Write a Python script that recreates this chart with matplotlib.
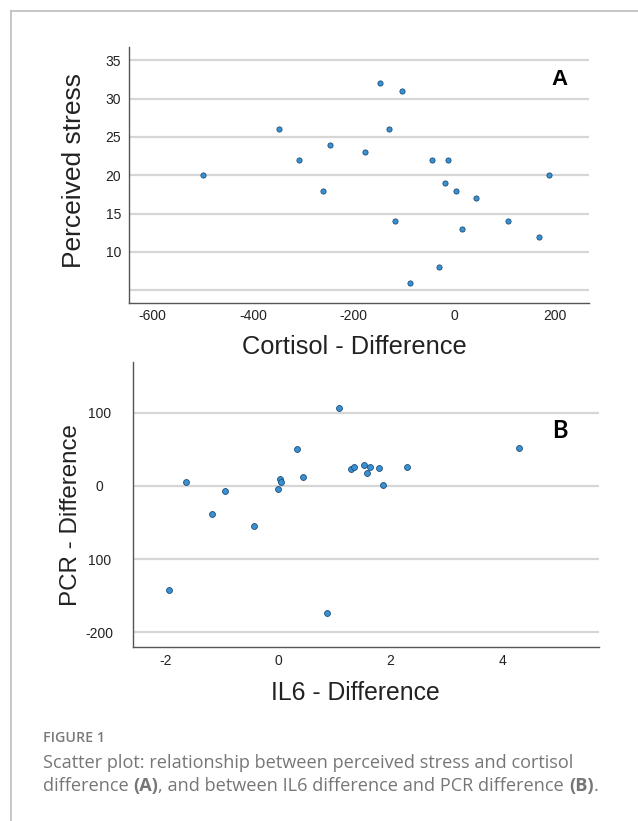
import matplotlib.pyplot as plt
from matplotlib.lines import Line2D

# Panel A data: cortisol difference vs perceived stress
cortisol_diff = [-500, -349, -308, -260, -247, -178, -147, -129, -118, -104, -88,
                 -44, -30, -19, -12, 4, 15, 43, 108, 168, 189]
perceived_stress = [20, 26, 22, 18, 24, 23, 32, 26, 14, 31, 6,
                    22, 8, 19, 22, 18, 13, 17, 14, 12, 20]

# Panel B data: IL6 difference vs PCR difference
il6_diff = [-1.94, -1.63, -1.17, -0.95, -0.42, 0.00, 0.03, 0.06, 0.33, 0.44, 0.87,
            1.08, 1.30, 1.36, 1.53, 1.58, 1.64, 1.80, 1.87, 2.30, 4.29]
pcr_diff = [-142, 5, -38, -7, -55, -4, 9, 5, 50, 12, -174,
            106, 23, 26, 29, 18, 26, 24, 1, 26, 52]

a_xticks = [-600, -400, -200, 0, 200]
a_yticks = [10, 15, 20, 25, 30, 35]
a_ygrid = [5, 10, 15, 20, 25, 30, 35]
b_xticks = [-2, 0, 2, 4]
b_yticks = [100, 0, -100, -200]
b_ylabels = ["100", "0", "100", "-200"]   # as printed in the figure

W, H = 638, 821
fig = plt.figure(figsize=(W / 100, H / 100), dpi=100)
fig.patch.set_facecolor("white")

def fx(x):
    return x / W

def fy(y):
    return 1 - y / H

# page frame (top and left edge)
fig.add_artist(Line2D([fx(11), 1], [fy(10.7), fy(10.7)], color="#bdbdbd", lw=1.2))
fig.add_artist(Line2D([fx(11), fx(11)], [fy(10.7), 0], color="#bdbdbd", lw=1.2))

dot_face = "#3a91d2"
dot_edge = "#1d4d78"
grid_col = "#d6d6d6"
spine_col = "#555555"
axis_font = "Liberation Sans"


def style_axes(ax):
    for s in ["top", "right"]:
        ax.spines[s].set_visible(False)
    for s in ["left", "bottom"]:
        ax.spines[s].set_color(spine_col)
        ax.spines[s].set_linewidth(1.0)
    ax.tick_params(length=0, labelsize=10, labelcolor="#222222")
    for lab in ax.get_xticklabels() + ax.get_yticklabels():
        lab.set_family(axis_font)


# ---- Panel A ----
axA = fig.add_axes([fx(129.4), fy(303.3), fx(588.7) - fx(129.4), fy(47.3) - fy(303.3)])
for g in a_ygrid:
    axA.axhline(g, color=grid_col, lw=1.6, zorder=0)
axA.scatter(cortisol_diff, perceived_stress, s=14, color=dot_face,
            edgecolor=dot_edge, linewidth=0.6, zorder=3)
axA.set_xlim(-646, 267.6)
axA.set_ylim(3.3, 36.7)
axA.set_xticks(a_xticks)
axA.set_yticks(a_yticks)
axA.set_xticklabels([str(v) for v in a_xticks])
axA.set_yticklabels([str(v) for v in a_yticks])
style_axes(axA)
axA.tick_params(axis="y", pad=6.0)
axA.tick_params(axis="x", pad=4.2)

# ---- Panel B ----
axB = fig.add_axes([fx(133), fy(646.7), fx(599.3) - fx(133), fy(361.7) - fy(646.7)])
for g in b_yticks:
    axB.axhline(g, color=grid_col, lw=1.6, zorder=0)
axB.scatter(il6_diff, pcr_diff, s=18, color=dot_face,
            edgecolor=dot_edge, linewidth=0.6, zorder=3)
axB.set_xlim(-2.58, 5.715)
axB.set_ylim(-219.7, 169.7)
axB.set_xticks(b_xticks)
axB.set_yticks(b_yticks)
axB.set_xticklabels([str(v) for v in b_xticks])
axB.set_yticklabels(b_ylabels)
style_axes(axB)
for lab in axB.get_yticklabels():
    lab.set_horizontalalignment("center")
axB.tick_params(axis="y", pad=24)
axB.tick_params(axis="x", pad=5.5)

# axis titles
fig.text(fx(74), fy(170), "Perceived stress", rotation=90, ha="center", va="center",
         fontsize=19, family=axis_font, color="#222222")
fig.text(fx(354.6), fy(347.3), "Cortisol - Difference", ha="center", va="center",
         fontsize=18.3, family=axis_font, color="#222222")
fig.text(fx(71), fy(515), "PCR - Difference", rotation=90, ha="center", va="center",
         fontsize=17.4, family=axis_font, color="#222222")
fig.text(fx(355), fy(692.7), "IL6 - Difference", ha="center", va="center",
         fontsize=17.8, family=axis_font, color="#222222")

# panel letters
fig.text(fx(560), fy(79.5), "A", ha="center", va="center", fontsize=16,
         fontweight="bold", family=axis_font, color="black")
fig.text(fx(560), fy(430), "B", ha="center", va="center", fontsize=17,
         fontweight="bold", family="Lato", color="black")

# caption, written piece by piece so the bold letters stay in the same font
cap_col = "#767676"
cap_font = "Open Sans"
cap_size = 13.1
fig.text(fx(43), fy(737.7), "FIGURE 1", ha="left", va="center", fontsize=10.3,
         fontweight="semibold", family=cap_font, color="#7a7a7a")

caption_lines = [
    [("Scatter plot: relationship between perceived stress and cortisol", "normal")],
    [("difference ", "normal"), ("(A)", "bold"),
     (", and between IL6 difference and PCR difference ", "normal"),
     ("(B)", "bold"), (".", "normal")],
]
line_y = [763.3, 786]

renderer = fig.canvas.get_renderer()
for pieces, y in zip(caption_lines, line_y):
    x = fx(43)
    for txt, wt in pieces:
        t = fig.text(x, fy(y), txt, ha="left", va="center", fontsize=cap_size,
                     fontweight=wt, family=cap_font, color=cap_col)
        bb = t.get_window_extent(renderer=renderer)
        x += bb.width / W

fig.savefig("out.png", dpi=100)
